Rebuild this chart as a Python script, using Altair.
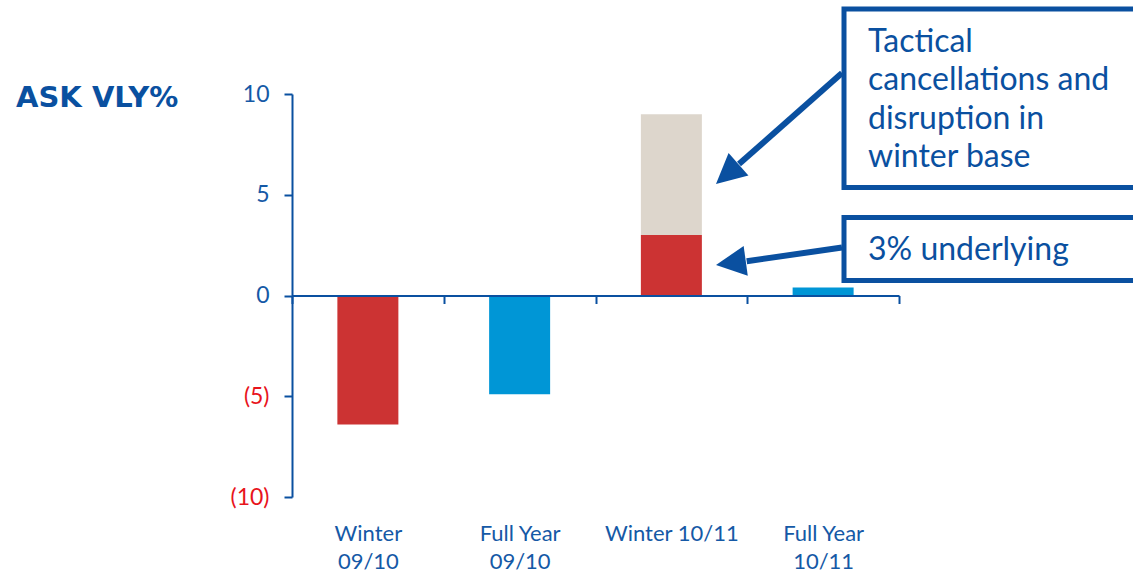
import altair as alt
import pandas as pd

# ASK change vs last year (%), by period
periods = ["Winter\n09/10", "Full Year\n09/10", "Winter 10/11", "Full Year\n10/11"]
season = ["Winter", "Full Year", "Winter", "Full Year"]
underlying = [-6.4, -4.9, 3.0, 0.4]
disruption = [0.0, 0.0, 6.0, 0.0]

y_ticks = [-10, -5, 0, 5, 10]

DARK_BLUE = "#0a50a0"
LABEL_BLUE = "#1559a6"
NEG_RED = "#e8141c"
FONT = "Lato"

rows = []
for p, s, u, d in zip(periods, season, underlying, disruption):
    rows.append({"period": p, "part": s, "start": 0.0, "end": u})
    if d:
        rows.append({"period": p, "part": "Disruption", "start": u, "end": u + d})
bars_df = pd.DataFrame(rows)

W, H = 607, 403

bars = alt.Chart(bars_df).mark_bar(width=61).encode(
    x=alt.X(
        "period:N",
        sort=periods,
        scale=alt.Scale(paddingInner=0, paddingOuter=0),
        axis=alt.Axis(
            title=None,
            offset=-H / 2,
            tickBand="extent",
            tickSize=8,
            tickWidth=2,
            tickColor=DARK_BLUE,
            domainColor=DARK_BLUE,
            domainWidth=2,
            labelAngle=0,
            labelExpr="split(datum.label, '\\n')",
            labelFont=FONT,
            labelFontSize=22,
            labelColor=LABEL_BLUE,
            labelLineHeight=28,
            labelPadding=220,
            labelLimit=300,
            zindex=1,
        ),
    ),
    y=alt.Y(
        "start:Q",
        scale=alt.Scale(domain=[-10, 10], nice=False, zero=False),
        axis=alt.Axis(
            title=None,
            values=y_ticks,
            grid=False,
            tickSize=8,
            tickWidth=2,
            tickColor=DARK_BLUE,
            domainColor=DARK_BLUE,
            domainWidth=2,
            labelFont=FONT,
            labelFontSize=23,
            labelPadding=15,
            labelExpr="datum.value < 0 ? '(' + abs(datum.value) + ')' : datum.label",
            labelColor={"condition": {"test": "datum.value < 0", "value": NEG_RED}, "value": LABEL_BLUE},
            zindex=1,
        ),
    ),
    y2="end:Q",
    color=alt.Color(
        "part:N",
        scale=alt.Scale(domain=["Winter", "Full Year", "Disruption"],
                        range=["#cc3333", "#0096d6", "#ddd6cc"]),
        legend=None,
    ),
)

one = pd.DataFrame({"n": [0]})

title = alt.Chart(one).mark_text(
    text="ASK VLY%", font="DejaVu Sans", fontSize=29, fontWeight="bold", color=DARK_BLUE,
    align="left", baseline="alphabetic",
).encode(x=alt.value(-276), y=alt.value(13))

box1 = alt.Chart(one).mark_rect(fill="white", stroke=DARK_BLUE, strokeWidth=5).encode(
    x=alt.value(552), x2=alt.value(880), y=alt.value(-85), y2=alt.value(93.5))
box2 = alt.Chart(one).mark_rect(fill="white", stroke=DARK_BLUE, strokeWidth=5).encode(
    x=alt.value(552), x2=alt.value(880), y=alt.value(123.5), y2=alt.value(186.5))

note1 = alt.Chart(one).mark_text(
    text="Tactical\ncancellations and\ndisruption in\nwinter base", lineBreak="\n",
    lineHeight=38.5, font=FONT, fontSize=32, color=DARK_BLUE, align="left", baseline="alphabetic",
).encode(x=alt.value(576), y=alt.value(-42.3))
note2 = alt.Chart(one).mark_text(
    text="3% underlying", font=FONT, fontSize=32, color=DARK_BLUE, align="left", baseline="alphabetic",
).encode(x=alt.value(576), y=alt.value(166))

stem1 = alt.Chart(one).mark_rule(color=DARK_BLUE, strokeWidth=6).encode(
    x=alt.value(550), y=alt.value(-21), x2=alt.value(447), y2=alt.value(70))
stem2 = alt.Chart(one).mark_rule(color=DARK_BLUE, strokeWidth=6).encode(
    x=alt.value(550), y=alt.value(153.5), x2=alt.value(454.7), y2=alt.value(167.3))

HEAD = "M0,0L0.5,1L-0.5,1Z"
head1 = alt.Chart(one).mark_point(shape=HEAD, size=3600, filled=True, opacity=1,
                                   color=DARK_BLUE, angle=228.6).encode(
    x=alt.value(424), y=alt.value(90))
head2 = alt.Chart(one).mark_point(shape=HEAD, size=3600, filled=True, opacity=1,
                                   color=DARK_BLUE, angle=262.1).encode(
    x=alt.value(424), y=alt.value(171))

chart = alt.layer(
    bars, title, stem1, stem2, head1, head2, box1, box2, note1, note2
).properties(
    width=W,
    height=H,
    autosize=alt.AutoSizeParams(type="none"),
    padding={"left": 292, "top": 94, "right": 234, "bottom": 79},
    background="white",
).configure_view(stroke=None)

chart.save("out.html", embed_options={"renderer": "svg", "actions": False})
